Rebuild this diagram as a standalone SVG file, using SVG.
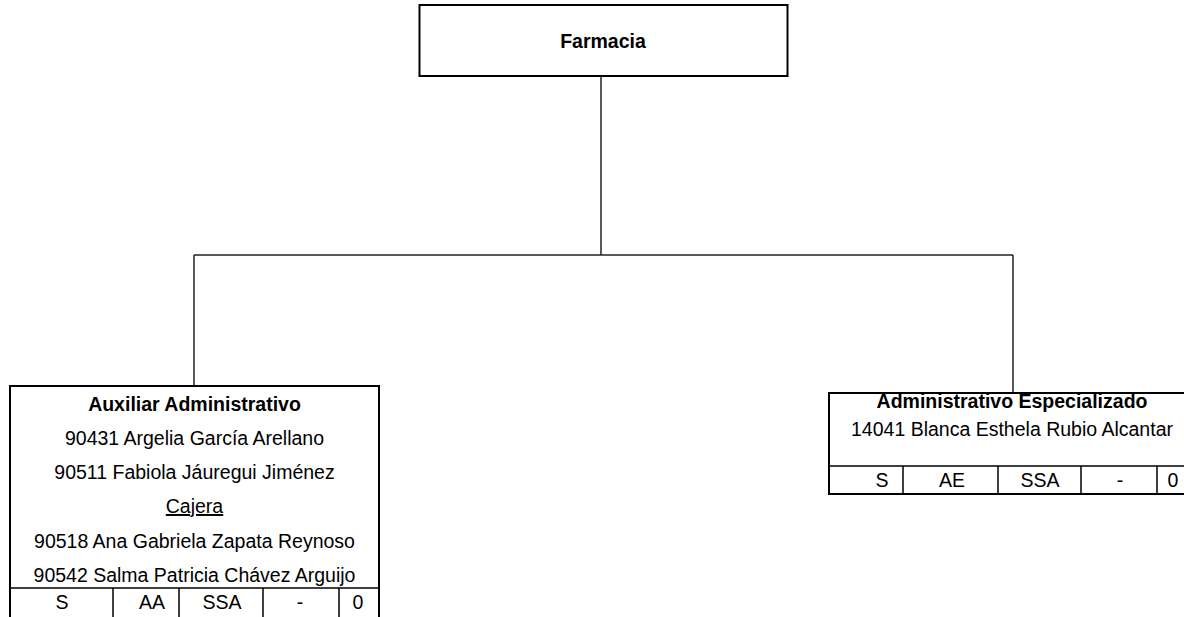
<svg xmlns="http://www.w3.org/2000/svg" width="1184" height="617" viewBox="0 0 1184 617">
<style>
.box{fill:#fff;stroke:#000;stroke-width:2}
.ln{stroke:#000;stroke-width:1.5;fill:none}
.cn{stroke:#222;stroke-width:1.5;fill:none}
text{font-family:"Liberation Sans",Arial,sans-serif;font-size:19.5px;fill:#000;text-anchor:middle}
.b{font-weight:bold}
</style>
<rect width="1184" height="617" fill="#fff"/>
<g id="connectors">
<path class="cn" d="M601,76 V255"/>
<path class="cn" d="M194,255 H1013"/>
<path class="cn" d="M194,255 V386"/>
<path class="cn" d="M1013,255 V393"/>
</g>
<g id="farmacia">
<rect class="box" x="419.5" y="5" width="368" height="71"/>
<text class="b" x="603" y="48" font-size="19">Farmacia</text>
</g>
<g id="auxiliar">
<rect class="box" x="10" y="386" width="369" height="250"/>
<text class="b" x="194.5" y="411">Auxiliar Administrativo</text>
<text x="194.5" y="445">90431 Argelia García Arellano</text>
<text x="194.5" y="479">90511 Fabiola Jáuregui Jiménez</text>
<text x="194.5" y="513" text-decoration="underline">Cajera</text>
<text x="194.5" y="548">90518 Ana Gabriela Zapata Reynoso</text>
<text x="194.5" y="582">90542 Salma Patricia Chávez Arguijo</text>
<path class="ln" d="M10,588 H379 M113,588 V620 M179,588 V620 M263,588 V620 M339,588 V620"/>
<text x="62" y="609">S</text>
<text x="152" y="609">AA</text>
<text x="222" y="609">SSA</text>
<text x="300" y="609">-</text>
<text x="358" y="609">0</text>
</g>
<g id="especializado">
<rect class="box" x="829" y="393" width="368" height="101"/>
<text class="b" x="1012" y="408">Administrativo Especializado</text>
<text x="1012" y="436">14041 Blanca Esthela Rubio Alcantar</text>
<path class="ln" d="M829,466 H1197 M903,466 V494 M998,466 V494 M1081,466 V494 M1157,466 V494"/>
<text x="882" y="487">S</text>
<text x="952" y="487">AE</text>
<text x="1040" y="487">SSA</text>
<text x="1120" y="487">-</text>
<text x="1173" y="487">0</text>
</g>
</svg>
